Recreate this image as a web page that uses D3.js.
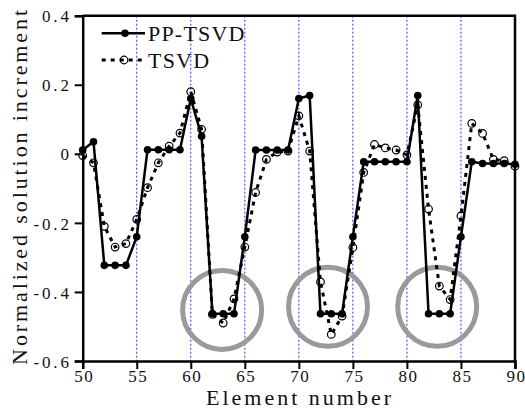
<!DOCTYPE html>
<html><head><meta charset="utf-8">
<script src="https://cdn.jsdelivr.net/npm/d3@7"></script>
<style>body{margin:0;background:#fff}svg{display:block}
text{font-family:"Liberation Serif","Times New Roman",Tinos,"DejaVu Serif",serif !important;}</style>
</head><body>
<svg id="c" width="525" height="413"></svg>
<script>
const elements = [50,51,52,53,54,55,56,57,58,59,60,61,62,63,64,65,66,67,68,69,70,71,72,73,74,75,76,77,78,79,80,81,82,83,84,85,86,87,88,89,90];
const ppTsvd = [0.011,0.035,-0.323,-0.323,-0.323,-0.24,0.012,0.012,0.012,0.012,0.16,0.051,-0.463,-0.463,-0.463,-0.24,0.011,0.011,0.011,0.011,0.16,0.169,-0.463,-0.463,-0.463,-0.24,-0.023,-0.023,-0.023,-0.023,-0.023,0.169,-0.463,-0.463,-0.463,-0.24,-0.023,-0.028,-0.028,-0.028,-0.03];
const tsvd = [-0.005,-0.026,-0.21,-0.27,-0.26,-0.19,-0.098,-0.026,0.022,0.06,0.18,0.071,-0.465,-0.49,-0.42,-0.27,-0.112,-0.016,0.005,0.008,0.11,0.008,-0.371,-0.523,-0.47,-0.271,-0.054,0.027,0.017,0.011,-0.003,0.142,-0.16,-0.383,-0.422,-0.18,0.088,0.059,-0.016,-0.02,-0.036];
const xTicks = [50,55,60,65,70,75,80,85,90];
const yTicks = [-0.6,-0.4,-0.2,0,0.2,0.4];
const yTickLabels = ["-0.6","-0.4","-0.2","0","0.2","0.4"];
const guideLines = [55,60,65,70,75,80,85];
const circleX = [62.9,72.7,82.8];
const circleY = [-0.452,-0.443,-0.443];
const seriesNames = ["PP-TSVD","TSVD"];

const svg = d3.select("#c");
const L=82.7, R=515, T=15.7, B=361;
const x = d3.scaleLinear().domain([50,90]).range([L,R]);
const y = d3.scaleLinear().domain([-0.6,0.4]).range([B,T]);

// guide lines
svg.append("g").selectAll("line").data(guideLines).join("line")
  .attr("x1",d=>x(d)).attr("x2",d=>x(d)).attr("y1",T).attr("y2",B)
  .attr("stroke","#2b2bff").attr("stroke-width",1).attr("stroke-dasharray","2,2");

// gray circles
svg.append("g").selectAll("circle").data(circleX).join("circle")
  .attr("cx",d=>x(d)).attr("cy",(d,i)=>y(circleY[i])).attr("r",39.5)
  .attr("fill","none").attr("stroke","#9a9a9a").attr("stroke-width",5);

// frame top/right
svg.append("path").attr("d",`M${L},${T}H${R}V${B}`).attr("fill","none").attr("stroke","#000").attr("stroke-width",2.5);

// axes
const xAxis = d3.axisBottom(x).tickValues(xTicks).tickSize(8).tickFormat(d3.format("d"));
const gx = svg.append("g").attr("transform",`translate(0,${B})`).call(xAxis);
const yAxis = d3.axisLeft(y).tickValues(yTicks).tickSize(8).tickFormat((d,i)=>yTickLabels[i]);
const gy = svg.append("g").attr("transform",`translate(${L},0)`).call(yAxis);
[gx,gy].forEach(g=>{
  g.attr("font-family",null);
  g.select(".domain").attr("stroke","#000").attr("stroke-width",2.5);
  g.selectAll(".tick line").attr("stroke","#000").attr("stroke-width",2);
  g.selectAll("text").attr("font-size",17).attr("fill","#111").attr("letter-spacing","1.5px");
});
gx.selectAll("text").attr("dy",0).attr("y",21).attr("dx","1px");
gy.selectAll("text").attr("x",-11).attr("dy","0.36em").attr("letter-spacing","2.8px");

// TSVD dotted line
const line = d3.line().x((d,i)=>x(elements[i])).y(d=>y(d));
svg.append("path").datum(tsvd).attr("d",line).attr("fill","none")
  .attr("stroke","#000").attr("stroke-width",3).attr("stroke-dasharray","4,5");
svg.append("g").selectAll("circle").data(tsvd).join("circle")
  .attr("cx",(d,i)=>x(elements[i])).attr("cy",d=>y(d)).attr("r",3.8)
  .attr("fill","none").attr("stroke","#000").attr("stroke-width",1.2);

// PP-TSVD solid
svg.append("path").datum(ppTsvd).attr("d",line).attr("fill","none")
  .attr("stroke","#000").attr("stroke-width",2.5);
svg.append("g").selectAll("circle").data(ppTsvd).join("circle")
  .attr("cx",(d,i)=>x(elements[i])).attr("cy",d=>y(d)).attr("r",3.8).attr("fill","#000");

// legend
const lg = svg.append("g");
lg.append("line").attr("x1",101.7).attr("x2",145).attr("y1",33.3).attr("y2",33.3).attr("stroke","#000").attr("stroke-width",2.5);
lg.append("circle").attr("cx",125).attr("cy",33.3).attr("r",3.8).attr("fill","#000");
lg.append("line").attr("x1",101.7).attr("x2",145).attr("y1",60).attr("y2",60).attr("stroke","#000").attr("stroke-width",3).attr("stroke-dasharray","4,5");
lg.append("circle").attr("cx",124).attr("cy",60).attr("r",3.8).attr("fill","none").attr("stroke","#000").attr("stroke-width",1.2);
lg.selectAll("text").data(seriesNames).join("text")
  .attr("x",148).attr("y",(d,i)=>i===0?41:68).text(d=>d)
  .attr("font-size",22).attr("letter-spacing","1.2px").attr("fill","#111");

// axis titles
svg.append("text").attr("x",300).attr("y",405).attr("text-anchor","middle")
  .attr("font-size",22).attr("letter-spacing","3px").attr("fill","#111").text("Element number");
svg.append("text").attr("transform","translate(26.5,186) rotate(-90)").attr("text-anchor","middle")
  .attr("font-size",22).attr("letter-spacing","2.9px").attr("fill","#111").text("Normalized solution increment");
</script>
</body></html>
